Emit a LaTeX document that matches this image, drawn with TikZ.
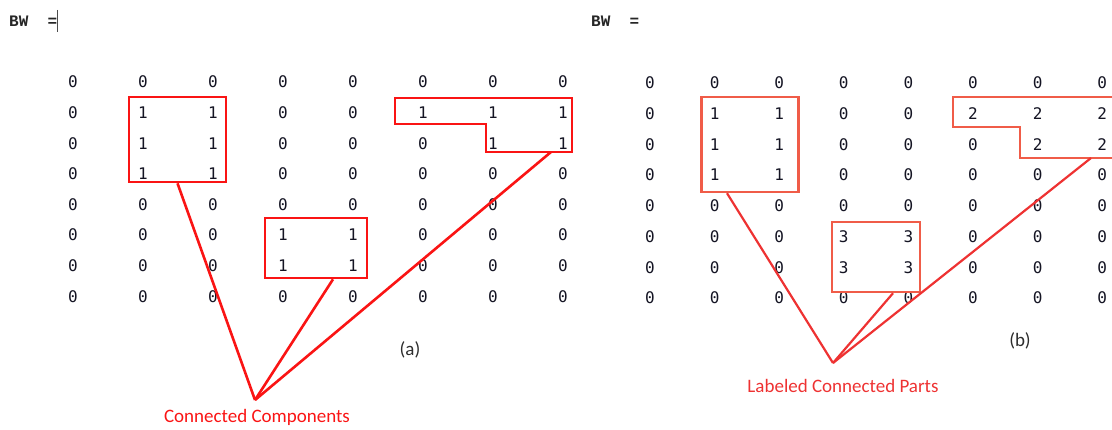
\documentclass[tikz,border=0pt]{standalone}
\usepackage{fontspec}
\newfontfamily\digfont{DejaVu Sans Mono}
\newfontfamily\labfont{Carlito}
\newfontfamily\bwfont{Liberation Mono}
\definecolor{digit}{RGB}{20,20,35}
\definecolor{redA}{RGB}{250,20,20}
\definecolor{boxB}{RGB}{240,92,72}
\definecolor{lineB}{RGB}{238,50,50}
\definecolor{capcol}{RGB}{45,45,45}
\begin{document}
\begin{tikzpicture}[x=1pt,y=-1pt,
  dg/.style={font=\digfont\fontsize{16}{16}\selectfont, text=digit, inner sep=0pt},
  bwtext/.style={font=\bwfont\bfseries\fontsize{16}{16}\selectfont, text=black!85, inner sep=0pt, anchor=west},
  boxa/.style={draw=redA, line width=2.6pt, inner sep=0pt},
  boxb/.style={draw=boxB, line width=2.4pt, inner sep=0pt},
  linka/.style={draw=redA, line width=2.6pt},
  linkb/.style={draw=lineB, line width=2.2pt},
  caption/.style={font=\labfont\fontsize{19}{19}\selectfont, text=capcol, inner sep=0pt},
  lbl/.style={font=\labfont\fontsize{19}{19}\selectfont, inner sep=0pt}]
\useasboundingbox (0,0) rectangle (1112,430);

% headers
\node[bwtext] (bwa) at (9,21) {BW\ \ =};
\coordinate (cura) at (57,10);
\coordinate (curb) at (57,32);
\draw[gray!60!black, line width=0.8pt] (cura) -- (curb);
\node[bwtext] (bwb) at (591,21) {BW\ \ =};

% matrix (a)
\foreach \row [count=\r from 0] in {{0,0,0,0,0,0,0,0},{0,1,1,0,0,1,1,1},{0,1,1,0,0,0,1,1},{0,1,1,0,0,0,0,0},{0,0,0,0,0,0,0,0},{0,0,0,1,1,0,0,0},{0,0,0,1,1,0,0,0},{0,0,0,0,0,0,0,0}}{
  \foreach \v [count=\c from 0] in \row {
    \node[dg] (a-\r-\c) at ({73+70*\c},{82+30.6*\r}) {\v};
  }
}
% matrix (b)
\foreach \row [count=\r from 0] in {{0,0,0,0,0,0,0,0},{0,1,1,0,0,2,2,2},{0,1,1,0,0,0,2,2},{0,1,1,0,0,0,0,0},{0,0,0,0,0,0,0,0},{0,0,0,3,3,0,0,0},{0,0,0,3,3,0,0,0},{0,0,0,0,0,0,0,0}}{
  \foreach \v [count=\c from 0] in \row {
    \node[dg] (b-\r-\c) at ({650+64.6*\c},{83+30.7*\r}) {\v};
  }
}

% boxes (a)
\node[boxa, minimum width=97pt, minimum height=85pt] (boxa1) at (177.5,139.5) {};
\node[boxa, minimum width=102pt, minimum height=60pt] (boxa2) at (316,248) {};
\draw[redA, line width=2.6pt] (395,98) -- (572,98) -- (572,152) -- (486,152) -- (486,124) -- (395,124) -- cycle;
\coordinate (boxa3) at (551,152);

% boxes (b)
\node[boxb, minimum width=97pt, minimum height=95pt] (boxb1) at (750,144.5) {};
\node[boxb, minimum width=88pt, minimum height=70pt] (boxb2) at (876,257) {};
\draw[boxB, line width=2.4pt] (953,97) -- (1118,97) -- (1118,158) -- (1020,158) -- (1020,127) -- (953,127) -- cycle;
\coordinate (boxb3) at (1091,158);

% connectors (a)
\coordinate (apexa) at (255,400);
\draw[linka] (boxa1.south) -- (apexa);
\draw[linka] ([xshift=17pt]boxa2.south) -- (apexa);
\draw[linka] (boxa3) -- (apexa);
\node[lbl, text=redA] (capa) at (257,417) {Connected Components};
\node[caption] (suba) at (410,350) {(a)};

% connectors (b)
\coordinate (apexb) at (833,363);
\draw[linkb] ([xshift=-23pt]boxb1.south) -- (apexb);
\draw[linkb] ([xshift=17pt]boxb2.south) -- (apexb);
\draw[linkb] (boxb3) -- (apexb);
\node[lbl, text=lineB] (capb) at (843,386) {Labeled Connected Parts};
\node[caption] (subb) at (1020,341) {(b)};
\end{tikzpicture}
\end{document}
